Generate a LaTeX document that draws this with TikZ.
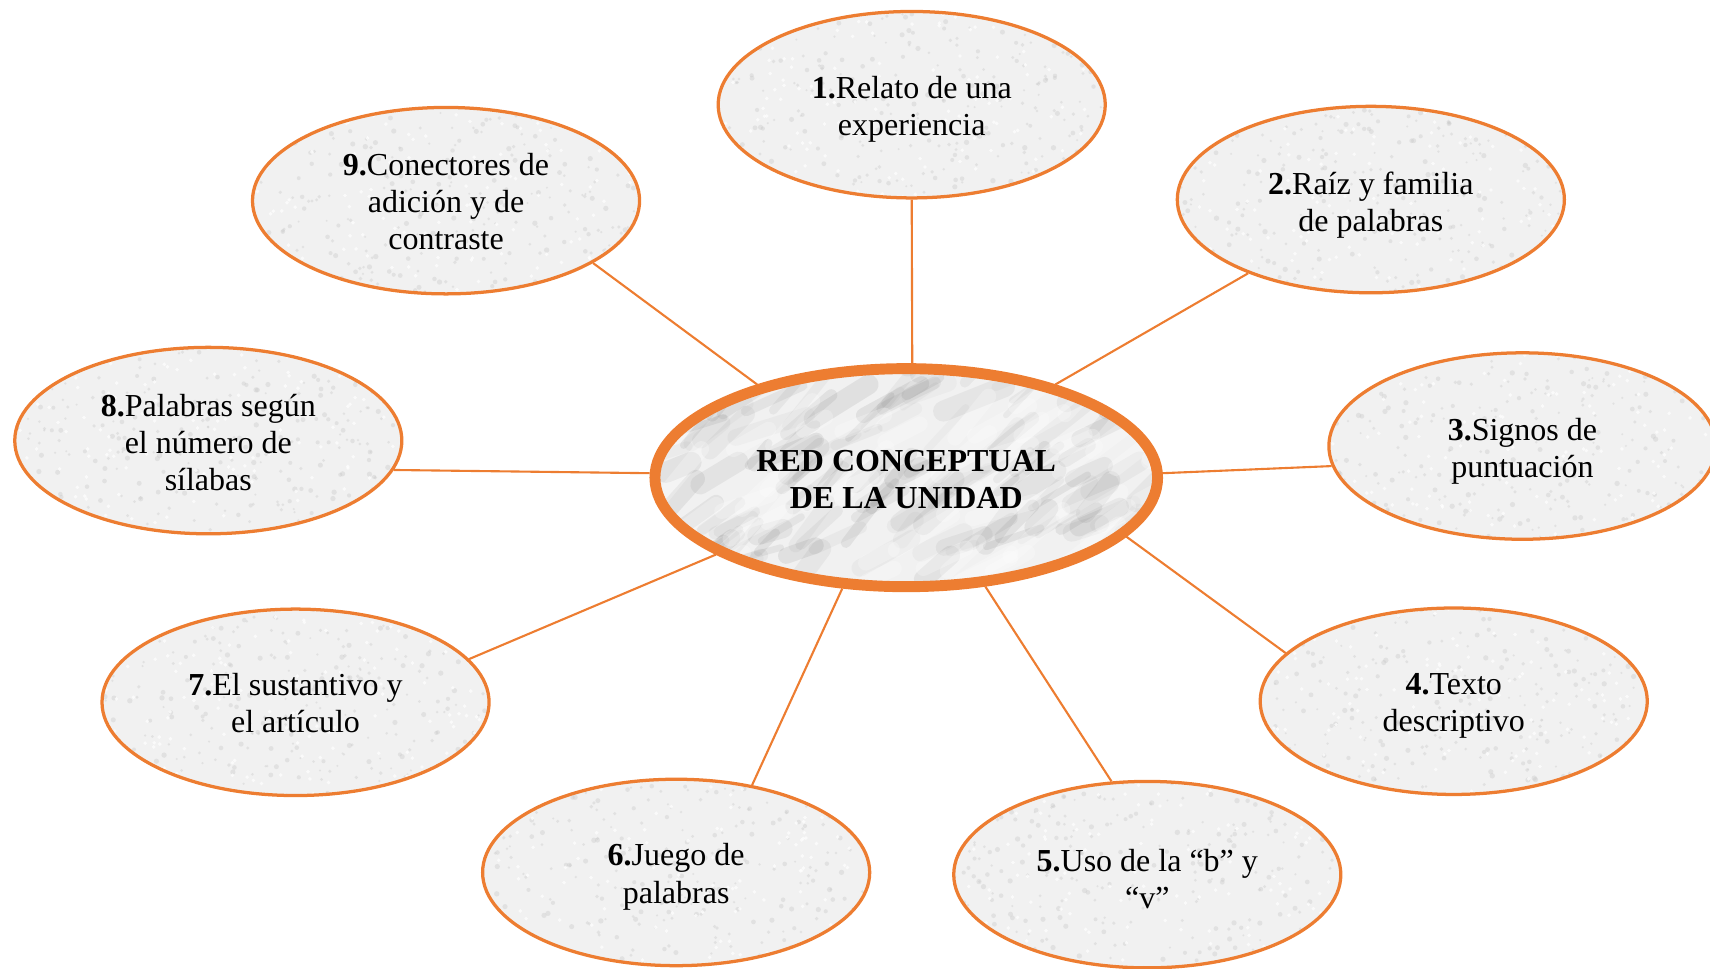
\documentclass[tikz,border=0pt]{standalone}
\usepackage{fontspec}
\setmainfont{Liberation Serif}
\usetikzlibrary{shapes.geometric}
\definecolor{orng}{HTML}{ED7D31}
\newcommand\speckle[2]{%
  \begin{scope}
    \clip (#1,#2) ellipse [x radius=3.55cm, y radius=1.71cm];
    \foreach \k in {1,...,300}{
      \pgfmathsetmacro\pX{#1+180*rand}
      \pgfmathsetmacro\pY{#2+88*rand}
      \pgfmathsetmacro\pR{0.02+0.03*rnd}
      \fill[gray!45, opacity=0.35] (\pX,\pY) circle [radius=\pR cm];
    }
    \foreach \k in {1,...,140}{
      \pgfmathsetmacro\pX{#1+180*rand}
      \pgfmathsetmacro\pY{#2+88*rand}
      \fill[white, opacity=0.7] (\pX,\pY) circle [radius=0.035cm];
    }
  \end{scope}}
\begin{document}
\begin{tikzpicture}[x=0.02cm,y=-0.02cm,
  topic/.style={ellipse, draw=orng, line width=1.7pt,
    minimum width=7.1cm, minimum height=3.42cm, inner sep=0pt},
  label/.style={align=center, inner sep=0pt, font=\fontsize{16.7}{19.4}\selectfont},
  hub/.style={ellipse, draw=orng, line width=5.7pt,
    minimum width=9.22cm, minimum height=4cm, inner sep=0pt},
  hubtext/.style={align=center, inner sep=0pt,
    font=\bfseries\fontsize{16.7}{19.4}\selectfont},
  link/.style={draw=orng, line width=1.1pt}]
\useasboundingbox (0,0) rectangle (1568,888);
\clip (0,0) rectangle (1568,888);

% marble background of the hub
\begin{scope}
  \clip (831,438) ellipse [x radius=4.62cm, y radius=2cm];
  \fill[gray!11] (831,438) ellipse [x radius=4.62cm, y radius=2cm];
  \pgfmathsetseed{7}
  \foreach \i in {1,...,160}{
    \pgfmathsetmacro\sX{831+235*rand}
    \pgfmathsetmacro\sY{438+105*rand}
    \pgfmathsetmacro\sL{20+50*rnd}
    \pgfmathsetmacro\sA{-35+20*rand}
    \pgfmathsetmacro\sW{3+8*rnd}
    \pgfmathsetmacro\sO{0.04+0.08*rnd}
    \draw[gray!80!black, line width=\sW pt, opacity=\sO, line cap=round]
      (\sX,\sY) -- ++(\sA:\sL);
  }
  \foreach \i in {1,...,60}{
    \pgfmathsetmacro\sX{831+235*rand}
    \pgfmathsetmacro\sY{438+105*rand}
    \pgfmathsetmacro\sL{20+50*rnd}
    \pgfmathsetmacro\sA{-35+20*rand}
    \draw[white, line width=8pt, opacity=0.25, line cap=round]
      (\sX,\sY) -- ++(\sA:\sL);
  }
\end{scope}

\node[hub] (c) at (831,438) {};
\node[hubtext] (ct) at ([yshift=-0.04cm]c.center) {RED CONCEPTUAL\\DE LA UNIDAD};

\foreach \x/\y in {836/96,1257/183,1396/409,1333/643,1052/802,620/800,271/644,191/404,409/184}{
  \fill[gray!11] (\x,\y) ellipse [x radius=3.55cm, y radius=1.71cm];
  \speckle{\x}{\y}
}

\node[topic] (e1) at (836,96)  {};
\node[topic] (e2) at (1257,183) {};
\node[topic] (e3) at (1396,409) {};
\node[topic] (e4) at (1333,643) {};
\node[topic] (e5) at (1052,802) {};
\node[topic] (e6) at (620,800)  {};
\node[topic] (e7) at (271,644)  {};
\node[topic] (e8) at (191,404)  {};
\node[topic] (e9) at (409,184)  {};

\node[label] (t1) at ([yshift=-0.08cm]e1.center) {\textbf{1.}Relato de una\\experiencia};
\node[label] (t2) at ([yshift=-0.1cm]e2.center) {\textbf{2.}Raíz y familia\\de palabras};
\node[label] (t3) at ([yshift=-0.09cm]e3.center) {\textbf{3.}Signos de\\puntuación};
\node[label] (t4) at ([yshift=-0.08cm]e4.center) {\textbf{4.}Texto\\descriptivo};
\node[label] (t5) at ([yshift=-0.08cm]e5.center) {\textbf{5.}Uso de la “b” y\\“v”};
\node[label] (t6) at ([yshift=-0.08cm]e6.center) {\textbf{6.}Juego de\\palabras};
\node[label] (t7) at ([yshift=-0.02cm]e7.center) {\textbf{7.}El sustantivo y\\el artículo};
\node[label] (t8) at ([yshift=-0.04cm]e8.center) {\textbf{8.}Palabras según\\el número de\\sílabas};
\node[label] (t9) at ([yshift=-0.02cm]e9.center) {\textbf{9.}Conectores de\\adición y de\\contraste};

\draw[link] (c.87)    -- (e1.south);
\draw[link] (c.32)    -- (e2.211.5);
\draw[link] (c.1.5)   -- (e3.186.5);
\draw[link] (c.-15.8) -- (e4.164.2);
\draw[link] (c.-54.1) -- (e5.111);
\draw[link] (c.240.3) -- (e6.49.5);
\draw[link] (c.202.2) -- (e7.14.6);
\draw[link] (c.179)   -- (e8.-9.5);
\draw[link] (c.148.4) -- (e9.-23.5);
\end{tikzpicture}
\end{document}
